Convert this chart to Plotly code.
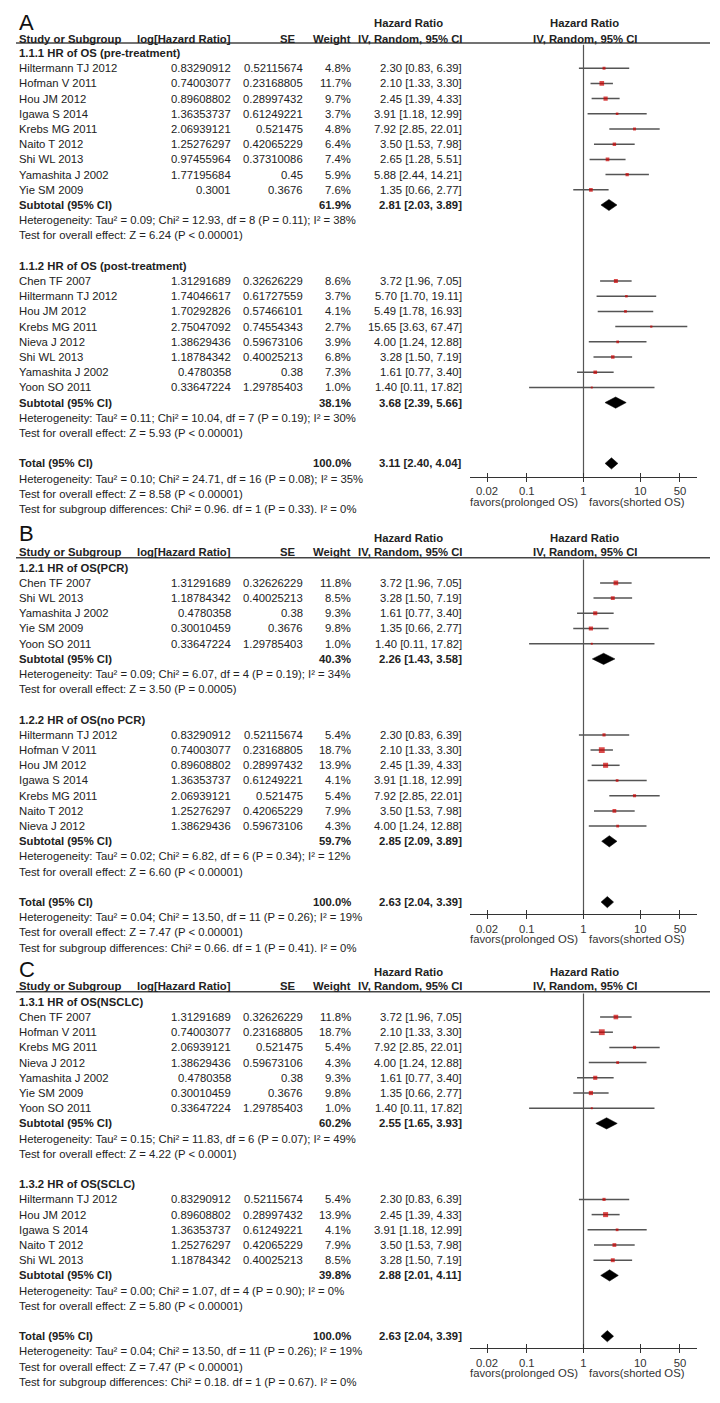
import plotly.graph_objects as go
import math

W, H = 720, 1403
OFF = 8  # default page body margin
FW, FH = W - OFF, H - OFF

# ======================= DATA =======================
# ---- Panel A ----
A1_title = "1.1.1 HR of OS (pre-treatment)"
A1_study = ["Hiltermann TJ 2012", "Hofman V 2011", "Hou JM 2012", "Igawa S 2014", "Krebs MG 2011",
            "Naito T 2012", "Shi WL 2013", "Yamashita J 2002", "Yie SM 2009"]
A1_loghr = [0.83290912, 0.74003077, 0.89608802, 1.36353737, 2.06939121, 1.25276297, 0.97455964, 1.77195684, 0.3001]
A1_se = [0.52115674, 0.23168805, 0.28997432, 0.61249221, 0.521475, 0.42065229, 0.37310086, 0.45, 0.3676]
A1_weight = [4.8, 11.7, 9.7, 3.7, 4.8, 6.4, 7.4, 5.9, 7.6]
A1_hr = [2.30, 2.10, 2.45, 3.91, 7.92, 3.50, 2.65, 5.88, 1.35]
A1_lo = [0.83, 1.33, 1.39, 1.18, 2.85, 1.53, 1.28, 2.44, 0.66]
A1_hi = [6.39, 3.30, 4.33, 12.99, 22.01, 7.98, 5.51, 14.21, 2.77]
A1_subtotal = [61.9, 2.81, 2.03, 3.89]
A1_het = "Heterogeneity: Tau² = 0.09; Chi² = 12.93, df = 8 (P = 0.11); I² = 38%"
A1_test = "Test for overall effect: Z = 6.24 (P < 0.00001)"

A2_title = "1.1.2 HR of OS (post-treatment)"
A2_study = ["Chen TF 2007", "Hiltermann TJ 2012", "Hou JM 2012", "Krebs MG 2011", "Nieva J 2012",
            "Shi WL 2013", "Yamashita J 2002", "Yoon SO 2011"]
A2_loghr = [1.31291689, 1.74046617, 1.70292826, 2.75047092, 1.38629436, 1.18784342, 0.4780358, 0.33647224]
A2_se = [0.32626229, 0.61727559, 0.57466101, 0.74554343, 0.59673106, 0.40025213, 0.38, 1.29785403]
A2_weight = [8.6, 3.7, 4.1, 2.7, 3.9, 6.8, 7.3, 1.0]
A2_hr = [3.72, 5.70, 5.49, 15.65, 4.00, 3.28, 1.61, 1.40]
A2_lo = [1.96, 1.70, 1.78, 3.63, 1.24, 1.50, 0.77, 0.11]
A2_hi = [7.05, 19.11, 16.93, 67.47, 12.88, 7.19, 3.40, 17.82]
A2_subtotal = [38.1, 3.68, 2.39, 5.66]
A2_het = "Heterogeneity: Tau² = 0.11; Chi² = 10.04, df = 7 (P = 0.19); I² = 30%"
A2_test = "Test for overall effect: Z = 5.93 (P < 0.00001)"

A_total = [100.0, 3.11, 2.40, 4.04]
A_total_het = "Heterogeneity: Tau² = 0.10; Chi² = 24.71, df = 16 (P = 0.08); I² = 35%"
A_total_test = "Test for overall effect: Z = 8.58 (P < 0.00001)"
A_subgroup_test = "Test for subgroup differences: Chi² = 0.96. df = 1 (P = 0.33). I² = 0%"

# ---- Panel B ----
B1_title = "1.2.1 HR of OS(PCR)"
B1_study = ["Chen TF 2007", "Shi WL 2013", "Yamashita J 2002", "Yie SM 2009", "Yoon SO 2011"]
B1_loghr = [1.31291689, 1.18784342, 0.4780358, 0.30010459, 0.33647224]
B1_se = [0.32626229, 0.40025213, 0.38, 0.3676, 1.29785403]
B1_weight = [11.8, 8.5, 9.3, 9.8, 1.0]
B1_hr = [3.72, 3.28, 1.61, 1.35, 1.40]
B1_lo = [1.96, 1.50, 0.77, 0.66, 0.11]
B1_hi = [7.05, 7.19, 3.40, 2.77, 17.82]
B1_subtotal = [40.3, 2.26, 1.43, 3.58]
B1_het = "Heterogeneity: Tau² = 0.09; Chi² = 6.07, df = 4 (P = 0.19); I² = 34%"
B1_test = "Test for overall effect: Z = 3.50 (P = 0.0005)"

B2_title = "1.2.2 HR of OS(no PCR)"
B2_study = ["Hiltermann TJ 2012", "Hofman V 2011", "Hou JM 2012", "Igawa S 2014", "Krebs MG 2011",
            "Naito T 2012", "Nieva J 2012"]
B2_loghr = [0.83290912, 0.74003077, 0.89608802, 1.36353737, 2.06939121, 1.25276297, 1.38629436]
B2_se = [0.52115674, 0.23168805, 0.28997432, 0.61249221, 0.521475, 0.42065229, 0.59673106]
B2_weight = [5.4, 18.7, 13.9, 4.1, 5.4, 7.9, 4.3]
B2_hr = [2.30, 2.10, 2.45, 3.91, 7.92, 3.50, 4.00]
B2_lo = [0.83, 1.33, 1.39, 1.18, 2.85, 1.53, 1.24]
B2_hi = [6.39, 3.30, 4.33, 12.99, 22.01, 7.98, 12.88]
B2_subtotal = [59.7, 2.85, 2.09, 3.89]
B2_het = "Heterogeneity: Tau² = 0.02; Chi² = 6.82, df = 6 (P = 0.34); I² = 12%"
B2_test = "Test for overall effect: Z = 6.60 (P < 0.00001)"

B_total = [100.0, 2.63, 2.04, 3.39]
B_total_het = "Heterogeneity: Tau² = 0.04; Chi² = 13.50, df = 11 (P = 0.26); I² = 19%"
B_total_test = "Test for overall effect: Z = 7.47 (P < 0.00001)"
B_subgroup_test = "Test for subgroup differences: Chi² = 0.66. df = 1 (P = 0.41). I² = 0%"

# ---- Panel C ----
C1_title = "1.3.1 HR of OS(NSCLC)"
C1_study = ["Chen TF 2007", "Hofman V 2011", "Krebs MG 2011", "Nieva J 2012", "Yamashita J 2002",
            "Yie SM 2009", "Yoon SO 2011"]
C1_loghr = [1.31291689, 0.74003077, 2.06939121, 1.38629436, 0.4780358, 0.30010459, 0.33647224]
C1_se = [0.32626229, 0.23168805, 0.521475, 0.59673106, 0.38, 0.3676, 1.29785403]
C1_weight = [11.8, 18.7, 5.4, 4.3, 9.3, 9.8, 1.0]
C1_hr = [3.72, 2.10, 7.92, 4.00, 1.61, 1.35, 1.40]
C1_lo = [1.96, 1.33, 2.85, 1.24, 0.77, 0.66, 0.11]
C1_hi = [7.05, 3.30, 22.01, 12.88, 3.40, 2.77, 17.82]
C1_subtotal = [60.2, 2.55, 1.65, 3.93]
C1_het = "Heterogeneity: Tau² = 0.15; Chi² = 11.83, df = 6 (P = 0.07); I² = 49%"
C1_test = "Test for overall effect: Z = 4.22 (P < 0.0001)"

C2_title = "1.3.2 HR of OS(SCLC)"
C2_study = ["Hiltermann TJ 2012", "Hou JM 2012", "Igawa S 2014", "Naito T 2012", "Shi WL 2013"]
C2_loghr = [0.83290912, 0.89608802, 1.36353737, 1.25276297, 1.18784342]
C2_se = [0.52115674, 0.28997432, 0.61249221, 0.42065229, 0.40025213]
C2_weight = [5.4, 13.9, 4.1, 7.9, 8.5]
C2_hr = [2.30, 2.45, 3.91, 3.50, 3.28]
C2_lo = [0.83, 1.39, 1.18, 1.53, 1.50]
C2_hi = [6.39, 4.33, 12.99, 7.98, 7.19]
C2_subtotal = [39.8, 2.88, 2.01, 4.11]
C2_het = "Heterogeneity: Tau² = 0.00; Chi² = 1.07, df = 4 (P = 0.90); I² = 0%"
C2_test = "Test for overall effect: Z = 5.80 (P < 0.00001)"

C_total = [100.0, 2.63, 2.04, 3.39]
C_total_het = "Heterogeneity: Tau² = 0.04; Chi² = 13.50, df = 11 (P = 0.26); I² = 19%"
C_total_test = "Test for overall effect: Z = 7.47 (P < 0.00001)"
C_subgroup_test = "Test for subgroup differences: Chi² = 0.18. df = 1 (P = 0.67). I² = 0%"

# axis tick labels
tick_vals = [0.02, 0.1, 1, 10, 50]
tick_text = ["0.02", "0.1", "1", "10", "50"]
favors_left = "favors(prolonged OS)"
favors_right = "favors(shorted OS)"

# ======================= LAYOUT HELPERS =======================
FONT = "Liberation Sans, Arial, sans-serif"
TXT = "#222222"
FS = 11.3
SP = 15.2  # row spacing (px)

X_STUDY = 18
X_LOGHR = 232
X_SE = 304
X_SE_HEAD = 296.5
X_WEIGHT = 351.5
X_HRCI = 462.5
X_HR_HEAD = 408
X_FOREST_L, X_FOREST_R = 470, 697
X_FOREST_C = 584.5


def grp(title, study, loghr, se, weight, hr, lo, hi, subtotal, het, test):
    return dict(title=title, study=study, loghr=loghr, se=se, weight=weight, hr=hr, lo=lo, hi=hi,
                subtotal=subtotal, het=het, test=test)


panels = [
    dict(label="A", label_y=22.5, head1=23, head2=39.3, uline=43, row0=53, axis_y=476.7,
         groups=[grp(A1_title, A1_study, A1_loghr, A1_se, A1_weight, A1_hr, A1_lo, A1_hi, A1_subtotal, A1_het, A1_test),
                 grp(A2_title, A2_study, A2_loghr, A2_se, A2_weight, A2_hr, A2_lo, A2_hi, A2_subtotal, A2_het, A2_test)],
         total=A_total, total_het=A_total_het, total_test=A_total_test, sub_test=A_subgroup_test),
    dict(label="B", label_y=533, head1=537.7, head2=552.3, uline=557.7, row0=567.7, axis_y=914,
         groups=[grp(B1_title, B1_study, B1_loghr, B1_se, B1_weight, B1_hr, B1_lo, B1_hi, B1_subtotal, B1_het, B1_test),
                 grp(B2_title, B2_study, B2_loghr, B2_se, B2_weight, B2_hr, B2_lo, B2_hi, B2_subtotal, B2_het, B2_test)],
         total=B_total, total_het=B_total_het, total_test=B_total_test, sub_test=B_subgroup_test),
    dict(label="C", label_y=969, head1=971.7, head2=986.4, uline=991.8, row0=1001.8, axis_y=1348.3,
         groups=[grp(C1_title, C1_study, C1_loghr, C1_se, C1_weight, C1_hr, C1_lo, C1_hi, C1_subtotal, C1_het, C1_test),
                 grp(C2_title, C2_study, C2_loghr, C2_se, C2_weight, C2_hr, C2_lo, C2_hi, C2_subtotal, C2_het, C2_test)],
         total=C_total, total_het=C_total_het, total_test=C_total_test, sub_test=C_subgroup_test),
]


def px(x):
    return (x - OFF) / FW


def py(y):
    return 1 - (y - OFF) / FH


annotations = []
shapes = []
fig = go.Figure()


def ann(text, x, y, anchor="left", bold=False, size=FS, color=TXT):
    if bold:
        text = "<b>" + text + "</b>"
    annotations.append(dict(text=text, x=px(x), y=py(y), xref="paper", yref="paper",
                            xanchor=anchor, yanchor="middle", showarrow=False,
                            font=dict(family=FONT, size=size, color=color), borderpad=0))


def ci_text(v):
    return "%.2f [%.2f, %.2f]" % (v[0], v[1], v[2])


layout_axes = {}

for k, P in enumerate(panels):
    n = k + 1
    xa = "x" if n == 1 else "x%d" % n
    ya = "y" if n == 1 else "y%d" % n
    xo = "x%d" % (n + 3)
    row0 = P["row0"]

    # headers
    ann(P["label"], 18, P["label_y"], "left", size=22, color="#111")
    ann("Hazard Ratio", X_HR_HEAD, P["head1"], "center", True)
    ann("Hazard Ratio", X_FOREST_C, P["head1"], "center", True)
    ann("Study or Subgroup", X_STUDY, P["head2"], "left", True)
    ann("log[Hazard Ratio]", X_LOGHR, P["head2"], "right", True)
    ann("SE", X_SE_HEAD, P["head2"], "right", True)
    ann("Weight", X_WEIGHT, P["head2"], "right", True)
    ann("IV, Random, 95% CI", X_HRCI, P["head2"], "right", True)
    ann("IV, Random, 95% CI", X_FOREST_C, P["head2"], "center", True)
    shapes.append(dict(type="line", xref="paper", yref="paper", x0=px(16), x1=px(710),
                       y0=py(P["uline"]), y1=py(P["uline"]), line=dict(color="#444", width=1.5)))

    # rows
    r = 0
    ci_x, ci_y, mk_x, mk_y, mk_s = [], [], [], [], []
    diamonds = []

    def ry(rr):
        return row0 + rr * SP

    for g in P["groups"]:
        ann(g["title"], X_STUDY, ry(r), "left", True)
        r += 1
        for i, s in enumerate(g["study"]):
            ann(s, X_STUDY, ry(r))
            ann(repr(g["loghr"][i]), X_LOGHR, ry(r), "right")
            ann(repr(g["se"][i]), X_SE, ry(r), "right")
            ann("%.1f%%" % g["weight"][i], X_WEIGHT, ry(r), "right")
            ann(ci_text([g["hr"][i], g["lo"][i], g["hi"][i]]), X_HRCI, ry(r), "right")
            ci_x += [g["lo"][i], g["hi"][i], None]
            ci_y += [r, r, None]
            mk_x.append(g["hr"][i])
            mk_y.append(r)
            mk_s.append(max(2.0, 1.35 * math.sqrt(g["weight"][i])))
            r += 1
        st = g["subtotal"]
        ann("Subtotal (95% CI)", X_STUDY, ry(r), "left", True)
        ann("%.1f%%" % st[0], X_WEIGHT, ry(r), "right", True)
        ann(ci_text(st[1:]), X_HRCI, ry(r), "right", True)
        diamonds.append((st[1], st[2], st[3], r))
        r += 1
        ann(g["het"], X_STUDY, ry(r))
        r += 1
        ann(g["test"], X_STUDY, ry(r))
        r += 2
    tt = P["total"]
    ann("Total (95% CI)", X_STUDY, ry(r), "left", True)
    ann("%.1f%%" % tt[0], X_WEIGHT, ry(r), "right", True)
    ann(ci_text(tt[1:]), X_HRCI, ry(r), "right", True)
    diamonds.append((tt[1], tt[2], tt[3], r))
    r += 1
    ann(P["total_het"], X_STUDY, ry(r))
    r += 1
    ann(P["total_test"], X_STUDY, ry(r))
    r += 1
    ann(P["sub_test"], X_STUDY, ry(r))

    # axis extents in row units
    y_top = (P["uline"] - row0) / SP
    y_bot = (P["axis_y"] - row0) / SP

    # favors labels
    ann(favors_left, 579, P["axis_y"] + 25, "right", color="#333")
    ann(favors_right, 588, P["axis_y"] + 25, "left", color="#333")

    # null line
    fig.add_trace(go.Scatter(x=[1, 1], y=[y_top + 0.12, y_bot], mode="lines",
                             line=dict(color="#555", width=1.2), xaxis=xo, yaxis=ya,
                             hoverinfo="skip", showlegend=False))
    # CI lines
    fig.add_trace(go.Scatter(x=ci_x, y=ci_y, mode="lines", line=dict(color="#555", width=1.5),
                             xaxis=xa, yaxis=ya, hoverinfo="skip", showlegend=False))
    # study markers
    fig.add_trace(go.Scatter(x=mk_x, y=mk_y, mode="markers",
                             marker=dict(symbol="square", size=mk_s, color="#cc0000", line=dict(width=0)),
                             xaxis=xa, yaxis=ya, showlegend=False))
    # diamonds
    for est, lo, hi, rr in diamonds:
        h = 0.37
        fig.add_trace(go.Scatter(x=[lo, est, hi, est, lo], y=[rr, rr - h, rr, rr + h, rr],
                                 mode="lines", fill="toself", fillcolor="black",
                                 line=dict(color="black", width=0.5), xaxis=xa, yaxis=ya,
                                 hoverinfo="skip", showlegend=False))

    ydom = [py(P["axis_y"]), py(P["uline"])]
    layout_axes["yaxis" if n == 1 else "yaxis%d" % n] = dict(
        domain=ydom, range=[y_bot, y_top], visible=False, fixedrange=True)
    layout_axes["xaxis" if n == 1 else "xaxis%d" % n] = dict(
        domain=[px(X_FOREST_L), px(X_FOREST_R)], type="log", range=[-2, 2], anchor=ya,
        showline=True, linecolor="#333", linewidth=1.2, ticks="outside", ticklen=4,
        tickcolor="#333", tickwidth=1.2, tickmode="array", tickvals=tick_vals, ticktext=tick_text,
        tickfont=dict(family=FONT, size=FS, color="#333"), showgrid=False, zeroline=False,
        fixedrange=True)
    layout_axes["xaxis%d" % (n + 3)] = dict(
        overlaying=xa, type="log", range=[-2, 2], anchor=ya, showline=False, ticks="inside",
        ticklen=4, tickcolor="#333", tickwidth=1.2, tickmode="array", tickvals=tick_vals,
        showticklabels=False, showgrid=False, zeroline=False, fixedrange=True)

fig.update_layout(
    width=FW, height=FH, margin=dict(l=0, r=0, t=0, b=0),
    paper_bgcolor="white", plot_bgcolor="rgba(0,0,0,0)",
    showlegend=False, annotations=annotations, shapes=shapes,
    font=dict(family=FONT, size=FS, color=TXT),
    **layout_axes,
)

fig.write_html("out.html")
